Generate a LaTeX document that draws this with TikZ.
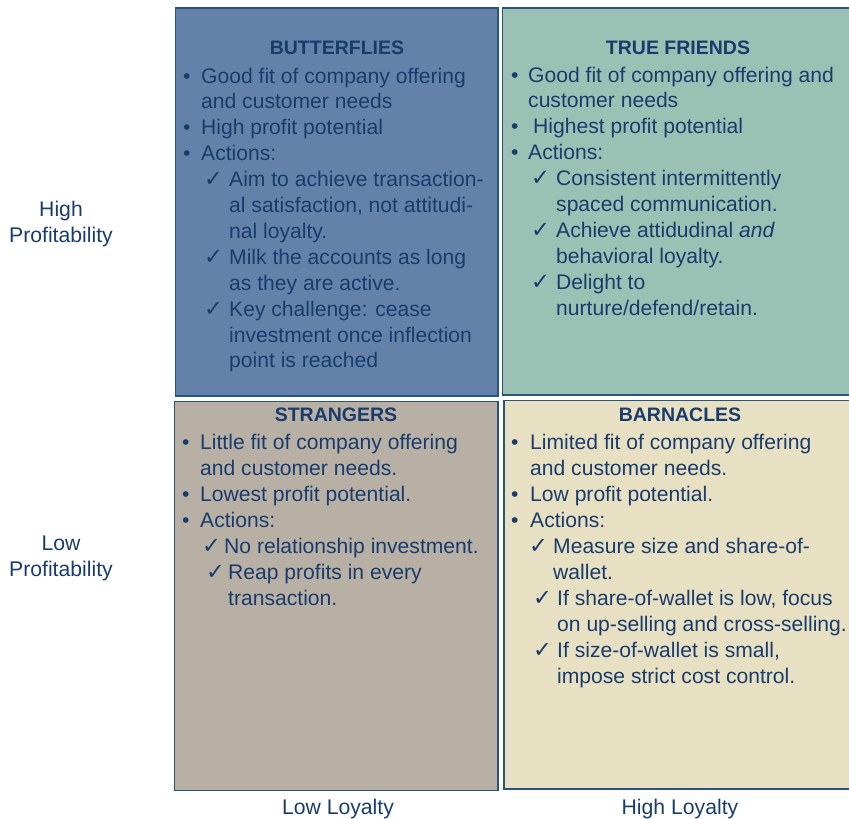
\documentclass[tikz,border=0pt]{standalone}
\usepackage{fontspec}
\setmainfont{Liberation Sans}
\newfontfamily\chkfont{DejaVu Sans}
\definecolor{bfcol}{HTML}{6482A9}
\definecolor{tfcol}{HTML}{9BC0B4}
\definecolor{stcol}{HTML}{B8B0A5}
\definecolor{bacol}{HTML}{E8E0C3}
\definecolor{edgecol}{HTML}{2A5380}
\definecolor{ink}{HTML}{1A3C6C}
\tikzset{
  txt/.style={anchor=base west, inner sep=0pt, text=ink, font=\fontsize{21.1}{26}\selectfont},
  ttl/.style={anchor=base, inner sep=0pt, text=ink, font=\fontsize{19.5}{24}\selectfont\bfseries},
  lbl/.style={anchor=base, inner sep=0pt, text=ink, font=\fontsize{21.2}{26}\selectfont},
  quad/.style={draw=edgecol, line width=1.8pt},
}
\newcommand\bitem[5]{\node[txt] (#1) at (#2,#3) {\makebox[#4pt][l]{\textbullet}#5};}
\newcommand\citem[5]{\node[txt] (#1) at (#2,#3) {\makebox[#4pt][l]{{\chkfont\bfseries\fontsize{22.5}{26}\selectfont ✓}}#5};}
\newcommand\tline[4]{\node[txt] (#1) at (#2,#3) {#4};}
\begin{document}
\begin{tikzpicture}[x=1pt,y=-1pt]
\useasboundingbox (0,0) rectangle (849,819);
% quadrants
\draw[quad, fill=bfcol] (175.5,8) rectangle (498,396);
\draw[quad, fill=tfcol] (502.5,8) rectangle (858,395);
\draw[quad, fill=stcol] (174.5,401.5) rectangle (498,790.5);
\draw[quad, fill=bacol] (504,400.5) rectangle (858,789);
% BUTTERFLIES
\node[ttl] (bft) at (337,54) {BUTTERFLIES};
\bitem{bf1}{183}{83}{18}{Good fit of company offering}
\tline{bf2}{201}{108.9}{and customer needs}
\bitem{bf3}{183}{134.8}{18}{High profit potential}
\bitem{bf4}{183}{160.7}{18}{Actions:}
\citem{bf5}{204}{186.6}{25}{Aim to achieve transaction-}
\tline{bf6}{229}{212.5}{al satisfaction, not attitudi-}
\tline{bf7}{229}{238.4}{nal loyalty.}
\citem{bf8}{204}{264.3}{25}{Milk the accounts as long}
\tline{bf9}{229}{290.2}{as they are active.}
\citem{bf10}{204}{316.1}{25}{Key challenge: cease}
\tline{bf11}{229}{342}{investment once inflection}
\tline{bf12}{229}{367.9}{point is reached}
% TRUE FRIENDS
\node[ttl] (tft) at (678,54) {TRUE FRIENDS};
\bitem{tf1}{511}{82}{17}{Good fit of company offering and}
\tline{tf2}{528}{107.9}{customer needs}
\bitem{tf3}{511}{133.8}{22}{Highest profit potential}
\bitem{tf4}{511}{159.7}{17}{Actions:}
\citem{tf5}{531}{185.6}{25}{Consistent intermittently}
\tline{tf6}{556}{211.5}{spaced communication.}
\citem{tf7}{531}{237.4}{25}{Achieve attidudinal \textit{and}}
\tline{tf8}{556}{263.3}{behavioral loyalty.}
\citem{tf9}{531}{289.2}{25}{Delight to}
\tline{tf10}{556}{315.1}{nurture/defend/retain.}
% STRANGERS
\node[ttl] (stt) at (336,421) {STRANGERS};
\bitem{st1}{182}{449}{18}{Little fit of company offering}
\tline{st2}{200}{475}{and customer needs.}
\bitem{st3}{182}{501}{18}{Lowest profit potential.}
\bitem{st4}{182}{527}{18}{Actions:}
\citem{st5}{202}{553}{22}{No relationship investment.}
\citem{st6}{206}{579}{22}{Reap profits in every}
\tline{st7}{228}{605}{transaction.}
% BARNACLES
\node[ttl] (bat) at (680,421) {BARNACLES};
\bitem{ba1}{511}{449}{19}{Limited fit of company offering}
\tline{ba2}{530}{475}{and customer needs.}
\bitem{ba3}{511}{501}{19}{Low profit potential.}
\bitem{ba4}{511}{527}{19}{Actions:}
\citem{ba5}{529}{553}{24}{Measure size and share-of-}
\tline{ba6}{553}{579}{wallet.}
\citem{ba7}{533}{605}{24}{If share-of-wallet is low, focus}
\tline{ba8}{557}{631}{on up-selling and cross-selling.}
\citem{ba9}{533}{657}{24}{If size-of-wallet is small,}
\tline{ba10}{557}{683}{impose strict cost control.}
% axis labels
\node[lbl] (hp1) at (61,216) {High};
\node[lbl] (hp2) at (61,242) {Profitability};
\node[lbl] (lp1) at (61,550) {Low};
\node[lbl] (lp2) at (61,576) {Profitability};
\node[lbl] (ll) at (338,814) {Low Loyalty};
\node[lbl] (hl) at (680,814) {High Loyalty};
\end{tikzpicture}
\end{document}
